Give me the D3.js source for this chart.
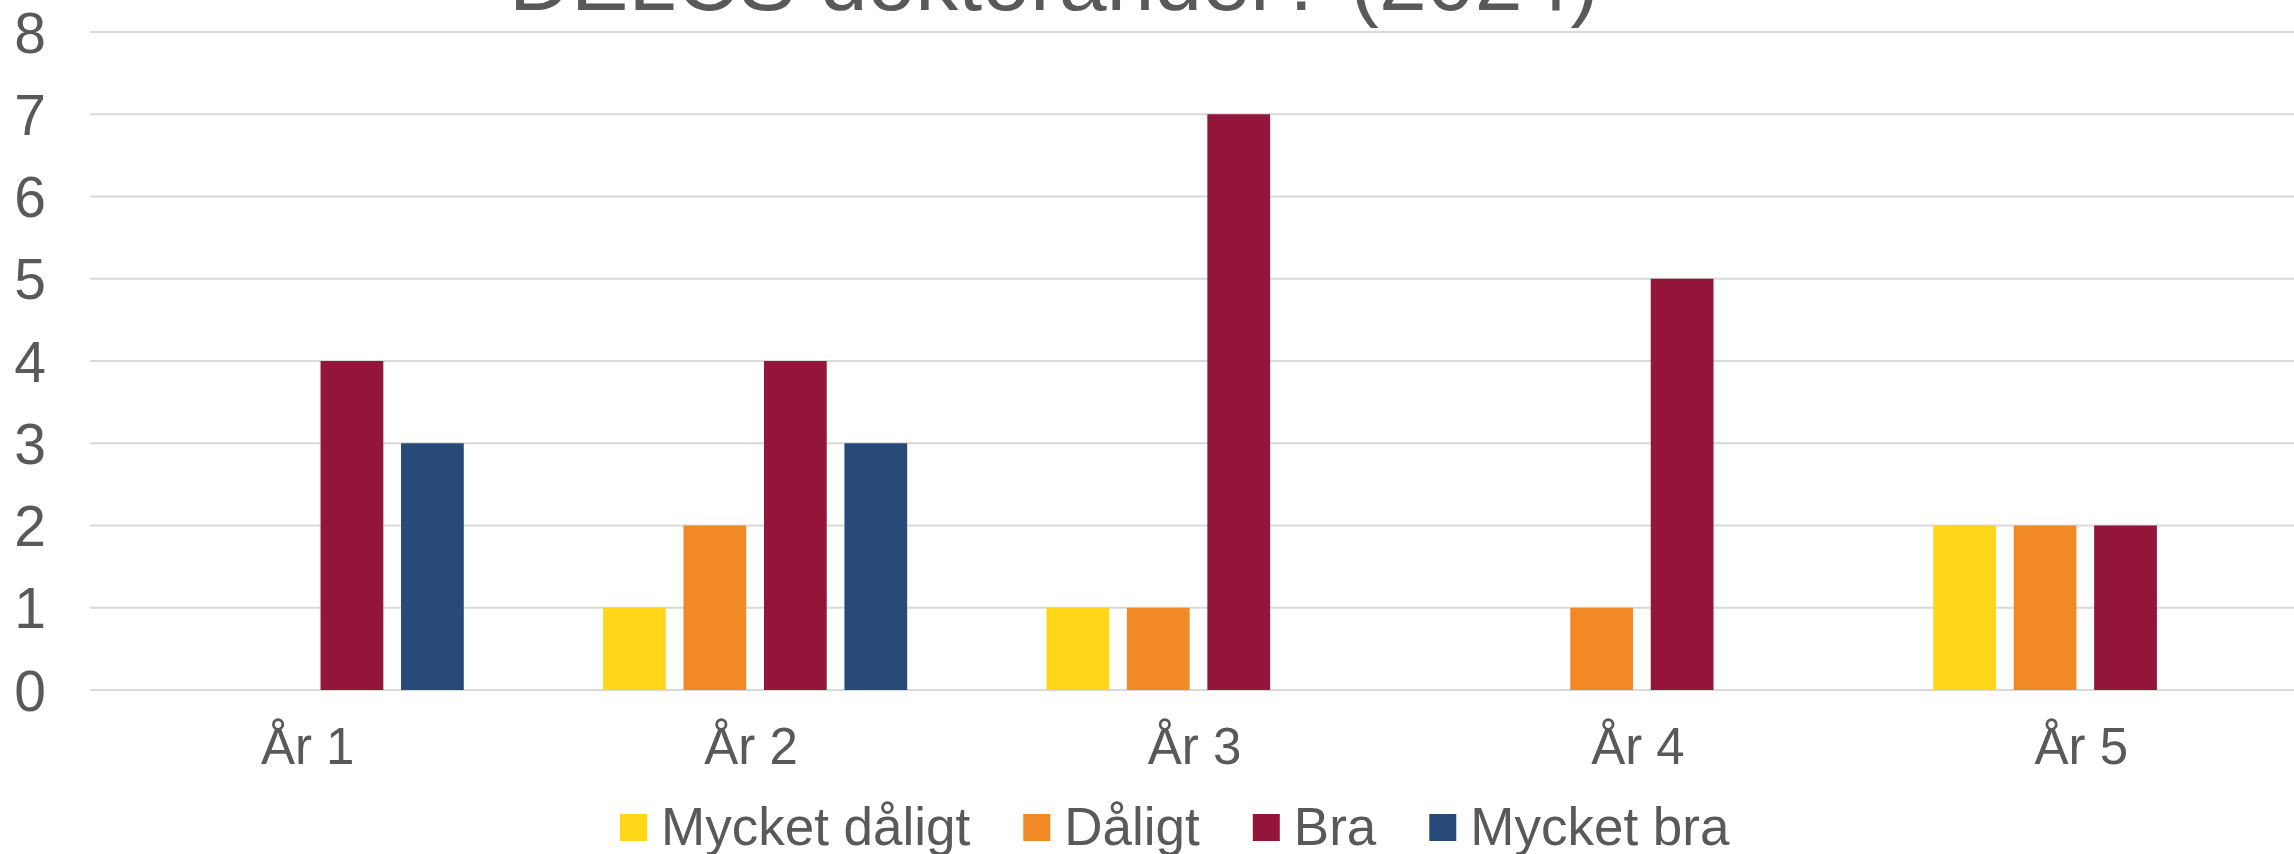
<!DOCTYPE html>
<html lang="sv">
<head>
<meta charset="UTF-8">
<script src="https://cdn.jsdelivr.net/npm/d3@7"></script>
<title>DELCS doktorander</title>
<style>
    body { margin: 0; background: #fff; }
    svg { display: block; font-family: Arial, "Liberation Sans", sans-serif; }
    .grid line { stroke: #d9d9d9; stroke-width: 2px; }
    text { fill: #595959; }
</style>
</head>
<body>
<div id="chart"></div>
<script>
    // ---------- data ----------
    const years = ["År 1", "År 2", "År 3", "År 4", "År 5"]
    const series = ["Mycket dåligt", "Dåligt", "Bra", "Mycket bra"]
    const colors = ["#ffd618", "#f18926", "#94153a", "#284a79"]
    // values per series, in year order
    const mycketDaligt = [0, 1, 1, 0, 2]
    const daligt       = [0, 2, 1, 1, 2]
    const bra          = [4, 4, 7, 5, 2]
    const mycketBra    = [3, 3, 0, 0, 0]
    const yTicks = [0, 1, 2, 3, 4, 5, 6, 7, 8]
    const title = "DELCS doktorander? (2024)"

    const values = [mycketDaligt, daligt, bra, mycketBra]

    // ---------- layout ----------
    const W = 2294, H = 854
    const plot = { left: 90, right: 2307, top: 32, bottom: 690 }

    const svg = d3.select("#chart").append("svg")
        .attr("width", W).attr("height", H)

    const x0 = d3.scaleBand().domain(years)
        .range([plot.left, plot.right])
        .paddingInner(0.314).paddingOuter(0.157)
    const x1 = d3.scaleBand().domain(series)
        .range([0, x0.bandwidth()])
        .paddingInner(0.22)
    const y = d3.scaleLinear().domain([0, 8]).range([plot.bottom, plot.top])

    // gridlines
    svg.append("g").attr("class", "grid")
        .selectAll("line").data(yTicks).join("line")
        .attr("x1", plot.left).attr("x2", W)
        .attr("y1", d => y(d)).attr("y2", d => y(d))

    // y labels
    svg.append("g").selectAll("text").data(yTicks).join("text")
        .attr("x", 46).attr("y", d => y(d))
        .attr("text-anchor", "end").attr("dy", "0.36em")
        .style("font-size", "57px")
        .text(d => d)

    // bars
    const rows = []
    years.forEach((yr, i) => series.forEach((s, j) => {
        if (values[j][i] > 0) rows.push({ year: yr, s: s, j: j, v: values[j][i] })
    }))
    svg.append("g").selectAll("rect").data(rows).join("rect")
        .attr("x", d => x0(d.year) + x1(d.s))
        .attr("width", x1.bandwidth())
        .attr("y", d => y(d.v))
        .attr("height", d => y(0) - y(d.v))
        .attr("fill", d => colors[d.j])

    // x labels
    svg.append("g").selectAll("text").data(years).join("text")
        .attr("x", d => x0(d) + x0.bandwidth() / 2 - 4)
        .attr("y", 764)
        .attr("text-anchor", "middle")
        .style("font-size", "51px")
        .text(d => d)

    // title (cut at top edge like the reference)
    svg.append("text")
        .attr("x", 1054).attr("y", 10)
        .attr("text-anchor", "middle")
        .style("font-size", "86px")
        .text(title)

    // legend
    const legend = svg.append("g")
    let lx = 620
    series.forEach((s, j) => {
        legend.append("rect")
            .attr("x", lx).attr("y", 814).attr("width", 27).attr("height", 27)
            .attr("fill", colors[j])
        const t = legend.append("text")
            .attr("x", lx + 41).attr("y", 845)
            .style("font-size", "53px")
            .text(s)
        lx += 41 + t.node().getComputedTextLength() + 53
    })
</script>
</body>
</html>
